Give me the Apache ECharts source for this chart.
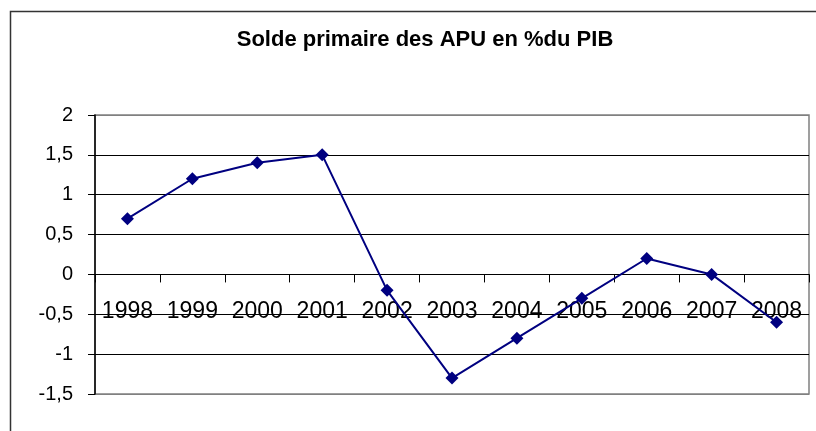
<!DOCTYPE html>
<html>
<head>
<meta charset="utf-8">
<script src="https://cdn.jsdelivr.net/npm/echarts@6/dist/echarts.min.js"></script>
<style>
html,body{margin:0;padding:0;background:#fff;}
#chart{width:816px;height:431px;}
</style>
</head>
<body>
<div id="chart"></div>
<script>
const titleText = 'Solde primaire des APU en %du PIB';
const categories = ['1998','1999','2000','2001','2002','2003','2004','2005','2006','2007','2008'];
const values = [0.7, 1.2, 1.4, 1.5, -0.2, -1.3, -0.8, -0.3, 0.2, 0.0, -0.6];
const yMin = -1.5, yMax = 2, yStep = 0.5;

const W = 816, H = 431;
const gLeft = 95, gRight = 7, gTop = 115, gBottom = 37;
const gHeight = H - gTop - gBottom;
// move the category axis up to the zero line
const zeroOffset = -gHeight * (0 - yMin) / (yMax - yMin);

const chart = echarts.init(document.getElementById('chart'), null, {renderer:'canvas'});
const gridColors = ['#808080','#000','#000','#000','#000','#000','#000','#808080'];
chart.setOption({
  animation:false,
  backgroundColor:'#fff',
  title:{
    text:titleText,
    left:420,
    textAlign:'center',
    top:24,
    textStyle:{fontFamily:'Liberation Sans',fontWeight:'bold',fontSize:22,color:'#000'}
  },
  graphic:[{
    type:'rect',
    shape:{x:10.5,y:11.5,width:900,height:500},
    style:{fill:null,stroke:'#333',lineWidth:1.5},
    silent:true,z:-1
  }],
  grid:{
    left:gLeft,right:gRight,top:gTop,bottom:gBottom,
    outerBoundsMode:'none',
    containLabel:false,
    show:true,borderColor:'#808080',borderWidth:1.5,backgroundColor:'transparent'
  },
  xAxis:{
    type:'category',
    data:categories,
    boundaryGap:true,
    position:'bottom',
    offset:zeroOffset,
    axisLine:{onZero:false,lineStyle:{color:'#000',width:1}},
    axisTick:{show:true,length:8,inside:false,alignWithLabel:false,lineStyle:{color:'#000'}},
    axisLabel:{margin:26,fontFamily:'Liberation Sans',fontSize:23,color:'#000',interval:0,hideOverlap:false},
    splitLine:{show:false},
    z:1
  },
  yAxis:{
    type:'value',
    min:yMin,max:yMax,interval:yStep,
    axisLine:{show:true,lineStyle:{color:'#000',width:1.5}},
    axisTick:{show:true,length:7,lineStyle:{color:'#000'}},
    axisLabel:{margin:22,fontFamily:'Liberation Sans',fontSize:20,color:'#000',
      formatter:v=>String(v).replace('.',',')},
    splitLine:{show:true,lineStyle:{color:gridColors,width:1}}
  },
  series:[{
    type:'line',
    data:values,
    symbol:'diamond',
    symbolSize:13,
    lineStyle:{color:'#000080',width:2},
    itemStyle:{color:'#000080'},
    z:5
  }]
});
</script>
</body>
</html>
